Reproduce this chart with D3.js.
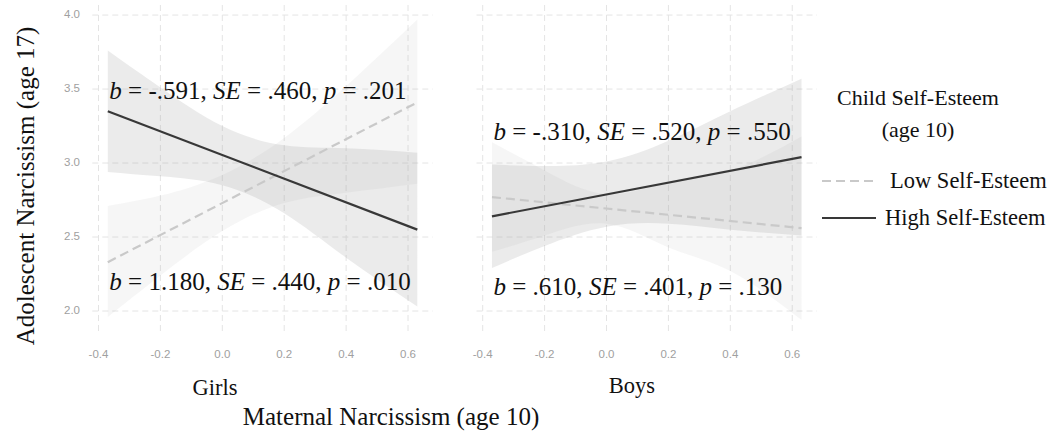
<!DOCTYPE html>
<html>
<head>
<meta charset="utf-8">
<script src="https://cdn.jsdelivr.net/npm/d3@7"></script>
<style>
  html, body { margin: 0; padding: 0; background: #fff; }
  svg { display: block; }
</style>
</head>
<body>
<svg id="chart" width="1053" height="432"></svg>
<script>
// ---------------- DATA ----------------
const panels = ["Girls", "Boys"];
const xTicks = [-0.4, -0.2, 0.0, 0.2, 0.4, 0.6];
const yTicks = [2.0, 2.5, 3.0, 3.5, 4.0];
const lineX = [-0.37, 0.63];              // endpoints of fitted lines
const bandX = [-0.37, -0.2, 0.0, 0.2, 0.4, 0.63];

// Girls
const girlsLowLine  = [2.33, 3.41];
const girlsHighLine = [3.35, 2.55];
const girlsLowLower  = [1.96, 2.24, 2.54, 2.73, 2.80, 2.86];
const girlsLowUpper  = [2.71, 2.78, 2.92, 3.17, 3.52, 3.97];
const girlsHighLower = [2.94, 2.91, 2.85, 2.66, 2.36, 2.03];
const girlsHighUpper = [3.76, 3.51, 3.25, 3.12, 3.10, 3.07];

// Boys
const boysLowLine  = [2.77, 2.56];
const boysHighLine = [2.64, 3.04];
const boysLowLower  = [2.40, 2.51, 2.59, 2.43, 2.27, 1.94];
const boysLowUpper  = [3.14, 2.95, 2.79, 2.87, 2.95, 3.18];
const boysHighLower = [2.29, 2.44, 2.57, 2.59, 2.55, 2.51];
const boysHighUpper = [2.99, 2.98, 3.01, 3.15, 3.35, 3.57];

const girlsHighStats = ["-.591", ".460", ".201"];
const girlsLowStats  = ["1.180", ".440", ".010"];
const boysLowStats   = ["-.310", ".520", ".550"];
const boysHighStats  = [".610", ".401", ".130"];

const legendTitle = ["Child Self-Esteem", "(age 10)"];
const legendLabels = ["Low Self-Esteem", "High Self-Esteem"];
const yTitle = "Adolescent Narcissism (age 17)";
const xTitle = "Maternal Narcissism (age 10)";

// ---------------- LAYOUT ----------------
const svg = d3.select("#chart");
const serif = "'Liberation Serif', 'Times New Roman', serif";
const sans = "'Liberation Sans', Arial, sans-serif";

const y = d3.scaleLinear().domain([1.838, 4.068]).range([335, 5]);
const panelLeft = [92.3, 476.5];
const panelWidth = 340.5;
const xScales = panelLeft.map(l => d3.scaleLinear().domain([-0.42, 0.68]).range([l, l + panelWidth]));

const panelData = [
  { low: girlsLowLine, high: girlsHighLine, lowLo: girlsLowLower, lowHi: girlsLowUpper, highLo: girlsHighLower, highHi: girlsHighUpper,
    ann: [{ s: girlsHighStats, yv: 3.432 }, { s: girlsLowStats, yv: 2.142 }], labelX: 215, labelY: 395 },
  { low: boysLowLine, high: boysHighLine, lowLo: boysLowLower, lowHi: boysLowUpper, highLo: boysHighLower, highHi: boysHighUpper,
    ann: [{ s: boysLowStats, yv: 3.155 }, { s: boysHighStats, yv: 2.108 }], labelX: 632, labelY: 393 }
];

const gridColor = "#e4e4e4";
const lowColor = "#c9c9c9";
const highColor = "#383838";

panelData.forEach((p, i) => {
  const x = xScales[i];
  const g = svg.append("g");

  // grid
  g.selectAll(".vgrid").data(xTicks).join("line")
    .attr("x1", d => x(d)).attr("x2", d => x(d))
    .attr("y1", y.range()[1]).attr("y2", y.range()[0])
    .attr("stroke", gridColor).attr("stroke-width", 1).attr("stroke-dasharray", "6,4");
  g.selectAll(".hgrid").data(yTicks).join("line")
    .attr("x1", x.range()[0]).attr("x2", x.range()[1])
    .attr("y1", d => y(d)).attr("y2", d => y(d))
    .attr("stroke", gridColor).attr("stroke-width", 1).attr("stroke-dasharray", "6,4");

  // x tick labels
  g.selectAll(".xt").data(xTicks).join("text")
    .attr("x", d => x(d)).attr("y", 355)
    .attr("text-anchor", "middle").attr("dominant-baseline", "middle")
    .attr("font-family", sans).attr("font-size", 11.5).attr("fill", "#a0a0a0")
    .text(d => d.toFixed(1));

  // bands
  const area = (lo, hi) => d3.area()
    .x((d, k) => x(bandX[k]))
    .y0((d, k) => y(lo[k]))
    .y1((d, k) => y(hi[k]))
    .curve(d3.curveNatural)(bandX);
  g.append("path").attr("d", area(p.lowLo, p.lowHi)).attr("fill", "#999").attr("fill-opacity", 0.09);
  g.append("path").attr("d", area(p.highLo, p.highHi)).attr("fill", "#999").attr("fill-opacity", 0.2);

  const line = d3.line().x((d, k) => x(lineX[k])).y(d => y(d));
  g.append("path").attr("d", line(p.low)).attr("fill", "none")
    .attr("stroke", lowColor).attr("stroke-width", 2.2).attr("stroke-dasharray", "9,5");
  g.append("path").attr("d", line(p.high)).attr("fill", "none")
    .attr("stroke", highColor).attr("stroke-width", 2.2);

  // annotations
  p.ann.forEach(a => {
    const t = g.append("text").attr("x", x(-0.365)).attr("y", y(a.yv))
      .attr("font-family", serif).attr("font-size", 25).attr("fill", "#111");
    t.append("tspan").attr("font-style", "italic").text("b");
    t.append("tspan").text(" = " + a.s[0] + ", ");
    t.append("tspan").attr("font-style", "italic").text("SE");
    t.append("tspan").text(" = " + a.s[1] + ", ");
    t.append("tspan").attr("font-style", "italic").text("p");
    t.append("tspan").text(" = " + a.s[2]);
  });

  // facet label
  g.append("text").attr("x", p.labelX).attr("y", p.labelY).attr("text-anchor", "middle")
    .attr("font-family", serif).attr("font-size", 22.5).attr("fill", "#111").text(panels[i]);
});

// y tick labels (left panel only)
svg.selectAll(".yt").data(yTicks).join("text")
  .attr("x", 80).attr("y", d => y(d))
  .attr("text-anchor", "end").attr("dominant-baseline", "middle")
  .attr("font-family", sans).attr("font-size", 11.5).attr("fill", "#a0a0a0")
  .text(d => d.toFixed(1));

// axis titles
svg.append("text").attr("transform", "translate(34,186) rotate(-90)")
  .attr("text-anchor", "middle").attr("font-family", serif).attr("font-size", 25).attr("fill", "#111")
  .text(yTitle);
svg.append("text").attr("x", 391).attr("y", 425).attr("text-anchor", "middle")
  .attr("font-family", serif).attr("font-size", 25).attr("fill", "#111").text(xTitle);

// legend
svg.selectAll(".lt").data(legendTitle).join("text")
  .attr("x", 918).attr("y", (d, i) => 105 + i * 32).attr("text-anchor", "middle")
  .attr("font-family", serif).attr("font-size", 22).attr("fill", "#111").text(d => d);

const legendY = [181, 218];
const legendStyles = [{ c: lowColor, dash: "9,5" }, { c: highColor, dash: null }];
legendLabels.forEach((lab, i) => {
  svg.append("line").attr("x1", 822).attr("x2", 876).attr("y1", legendY[i]).attr("y2", legendY[i])
    .attr("stroke", legendStyles[i].c).attr("stroke-width", 2.2)
    .attr("stroke-dasharray", legendStyles[i].dash);
  svg.append("text").attr("x", i === 0 ? 890 : 885).attr("y", legendY[i] + 7)
    .attr("font-family", serif).attr("font-size", 22.5).attr("fill", "#111").text(lab);
});
</script>
</body>
</html>
